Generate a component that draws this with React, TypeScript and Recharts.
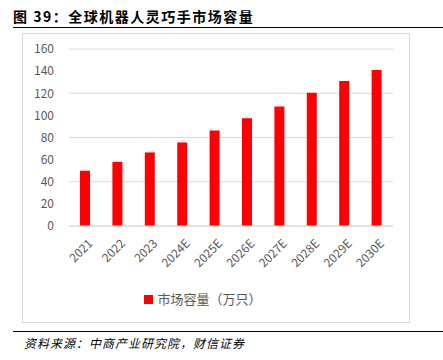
import { BarChart, Bar, XAxis, YAxis, CartesianGrid, Legend } from "recharts";

const years = ["2021", "2022", "2023", "2024E", "2025E", "2026E", "2027E", "2028E", "2029E", "2030E"];
const capacity = [50, 58, 66.5, 75.5, 86.4, 97.3, 108, 120.5, 131, 141];
const yTicks = [0, 20, 40, 60, 80, 100, 120, 140, 160];

const data = years.map((y, i) => ({ year: y, value: capacity[i] }));

const FONT = "'Noto Sans CJK SC', 'Noto Sans', sans-serif";

function RotTick({ x, y, payload }: any) {
  return (
    <g transform={`translate(${x + 4},${y + 6})`}>
      <text x={0} y={0} dy={6} textAnchor="end" transform="rotate(-45)" fill="#595959" fontSize={12} fontFamily={FONT}>
        {payload.value}
      </text>
    </g>
  );
}

export default function App() {
  return (
    <div style={{ position: "absolute", left: 0, top: 0, width: 443, height: 360, background: "#fff", fontFamily: FONT }}>
      <div style={{ position: "absolute", left: 13, top: 6, fontSize: 14, fontWeight: 700, color: "#000", letterSpacing: 1.5 }}>
        图 39：全球机器人灵巧手市场容量
      </div>
      <div style={{ position: "absolute", left: 13, top: 27, width: 430, height: 1, background: "#000" }} />
      <div style={{ position: "absolute", left: 22, top: 33, width: 388, height: 290, border: "1px solid #d9d9d9", boxSizing: "border-box" }}>
        <BarChart width={386} height={288} data={data} margin={{ top: 15, right: 16, bottom: 0, left: 0 }}>
          <CartesianGrid vertical={false} stroke="#d9d9d9" />
          <XAxis dataKey="year" tick={<RotTick />} axisLine={{ stroke: "#d9d9d9" }} tickLine={false} interval={0} height={50} />
          <YAxis domain={[0, 160]} ticks={yTicks} width={46} axisLine={false} tickLine={false}
            tick={{ fontSize: 12, fill: "#595959", fontFamily: FONT, dx: -7 }} />
          <Legend verticalAlign="bottom" height={46} iconType="square" iconSize={9}
            wrapperStyle={{ top: 251 }}
            formatter={(v) => <span style={{ fontSize: 13, color: "#595959", fontFamily: FONT }}>{v}</span>} />
          <Bar dataKey="value" name="市场容量（万只）" fill="#ff0000" barSize={10} isAnimationActive={false} />
        </BarChart>
      </div>
      <div style={{ position: "absolute", left: 13, top: 331, width: 430, height: 1, background: "#000" }} />
      <div style={{ position: "absolute", left: 24, top: 334, fontSize: 12, fontStyle: "italic", color: "#000", letterSpacing: 1 }}>
        资料来源：中商产业研究院，财信证券
      </div>
    </div>
  );
}
